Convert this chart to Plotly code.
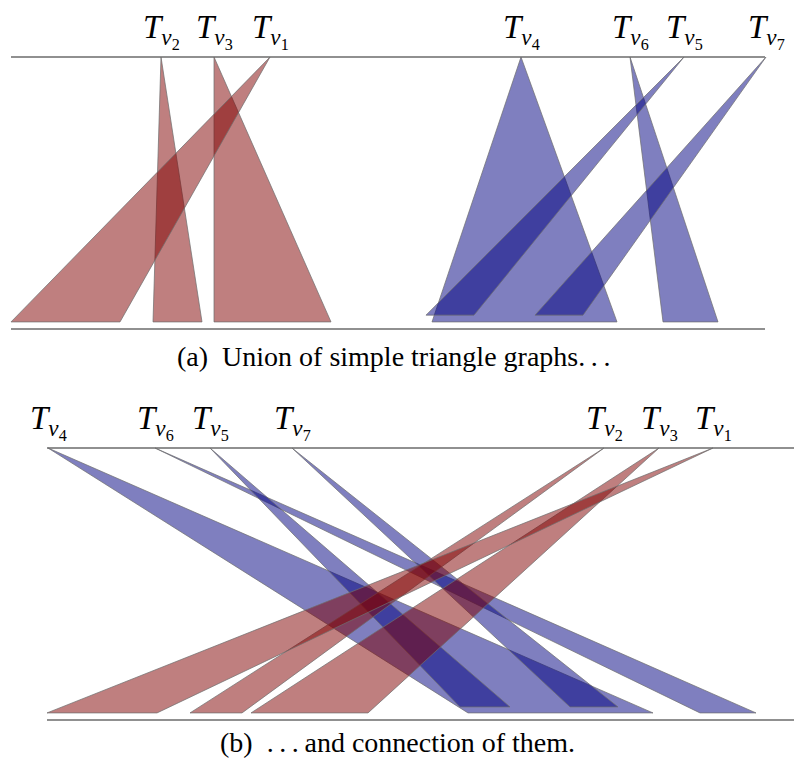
import plotly.graph_objects as go

W, H = 794, 769

# ---------------- data ----------------
# Panel (a): union of simple triangle graphs
a_labels = ["2", "3", "1", "4", "6", "5", "7"]
a_group = ["red", "red", "red", "blue", "blue", "blue", "blue"]
a_apex = [161, 214, 270, 521, 630, 684, 766]
a_base_left = [153, 214, 11, 432, 663, 426, 535]
a_base_right = [202, 331, 120, 617, 718, 474, 583]
a_depth = [0.974, 0.974, 0.974, 0.974, 0.974, 0.949, 0.949]
a_line = [11, 765]

# Panel (b): connection of them
b_labels = ["4", "6", "5", "7", "2", "3", "1"]
b_group = ["blue", "blue", "blue", "blue", "red", "red", "red"]
b_apex = [48, 155, 210, 292, 604, 659, 713]
b_base_left = [468, 700, 460, 570, 190, 251, 47]
b_base_right = [653, 756, 510, 618, 242, 368, 157]
b_depth = [0.974, 0.974, 0.952, 0.952, 0.974, 0.974, 0.974]
b_line = [47, 794]

captions = ["(a)  Union of simple triangle graphs.\u2009.\u2009.",
            "(b)  .\u2009.\u2009.\u2009and connection of them."]

# ---------------- style ----------------
FILL = {"red": "rgba(128,0,0,0.5)", "blue": "rgba(0,0,128,0.5)"}
EDGE = "rgba(110,110,110,0.9)"
FONT = "Liberation Serif"

fig = go.Figure()

def add_panel(xa, ya, labels, group, apex, bl, br, depth):
    order = [i for i in range(len(apex)) if group[i] == "blue"] + \
            [i for i in range(len(apex)) if group[i] == "red"]
    for i in order:
        fig.add_trace(go.Scatter(
            x=[apex[i], br[i], bl[i], apex[i]],
            y=[0, depth[i], depth[i], 0],
            mode="lines", fill="toself",
            fillcolor=FILL[group[i]],
            line=dict(color=EDGE, width=0.8),
            xaxis=xa, yaxis=ya, hoverinfo="skip", showlegend=False))

def add_lines(xa, ya, xs):
    for yv in (0, 1):
        fig.add_trace(go.Scatter(
            x=xs, y=[yv, yv], mode="lines",
            line=dict(color="#222", width=1.2),
            xaxis=xa, yaxis=ya, hoverinfo="skip", showlegend=False))

add_lines("x", "y", a_line)
add_panel("x", "y", a_labels, a_group, a_apex, a_base_left, a_base_right, a_depth)
add_lines("x2", "y2", b_line)
add_panel("x2", "y2", b_labels, b_group, b_apex, b_base_left, b_base_right, b_depth)

def lab(d):
    return "<i>T</i><sub><i>v</i><sub>" + d + "</sub></sub>"

ann = []
for apex, labels, xr, yr in ((a_apex, a_labels, "x", "y"), (b_apex, b_labels, "x2", "y2")):
    for xv, d in zip(apex, labels):
        ann.append(dict(x=xv, y=-0.009, xref=xr, yref=yr, text=lab(d),
                        showarrow=False, xanchor="center", yanchor="bottom",
                        font=dict(family=FONT, size=33, color="black")))
ann.append(dict(x=393 / W, y=1 - 356 / H, xref="paper", yref="paper", text=captions[0],
                showarrow=False, xanchor="center", yanchor="middle",
                font=dict(family=FONT, size=28, color="black")))
ann.append(dict(x=397 / W, y=1 - 742 / H, xref="paper", yref="paper", text=captions[1],
                showarrow=False, xanchor="center", yanchor="middle",
                font=dict(family=FONT, size=28, color="black")))

pad = 10 / 272
ax = dict(range=[0, W], visible=False, fixedrange=True)
fig.update_layout(
    width=W, height=H, margin=dict(l=0, r=0, t=0, b=0),
    paper_bgcolor="white", plot_bgcolor="white",
    xaxis=dict(ax, domain=[0, 1], anchor="y"),
    xaxis2=dict(ax, domain=[0, 1], anchor="y2"),
    yaxis=dict(range=[1 + pad, -pad], visible=False, fixedrange=True,
               domain=[1 - 339 / H, 1 - 47 / H], anchor="x"),
    yaxis2=dict(range=[1 + pad, -pad], visible=False, fixedrange=True,
                domain=[1 - 730 / H, 1 - 438 / H], anchor="x2"),
    annotations=ann,
)

fig.write_html("out.html", config={"displayModeBar": False},
               post_script="document.body.style.margin='0';")
